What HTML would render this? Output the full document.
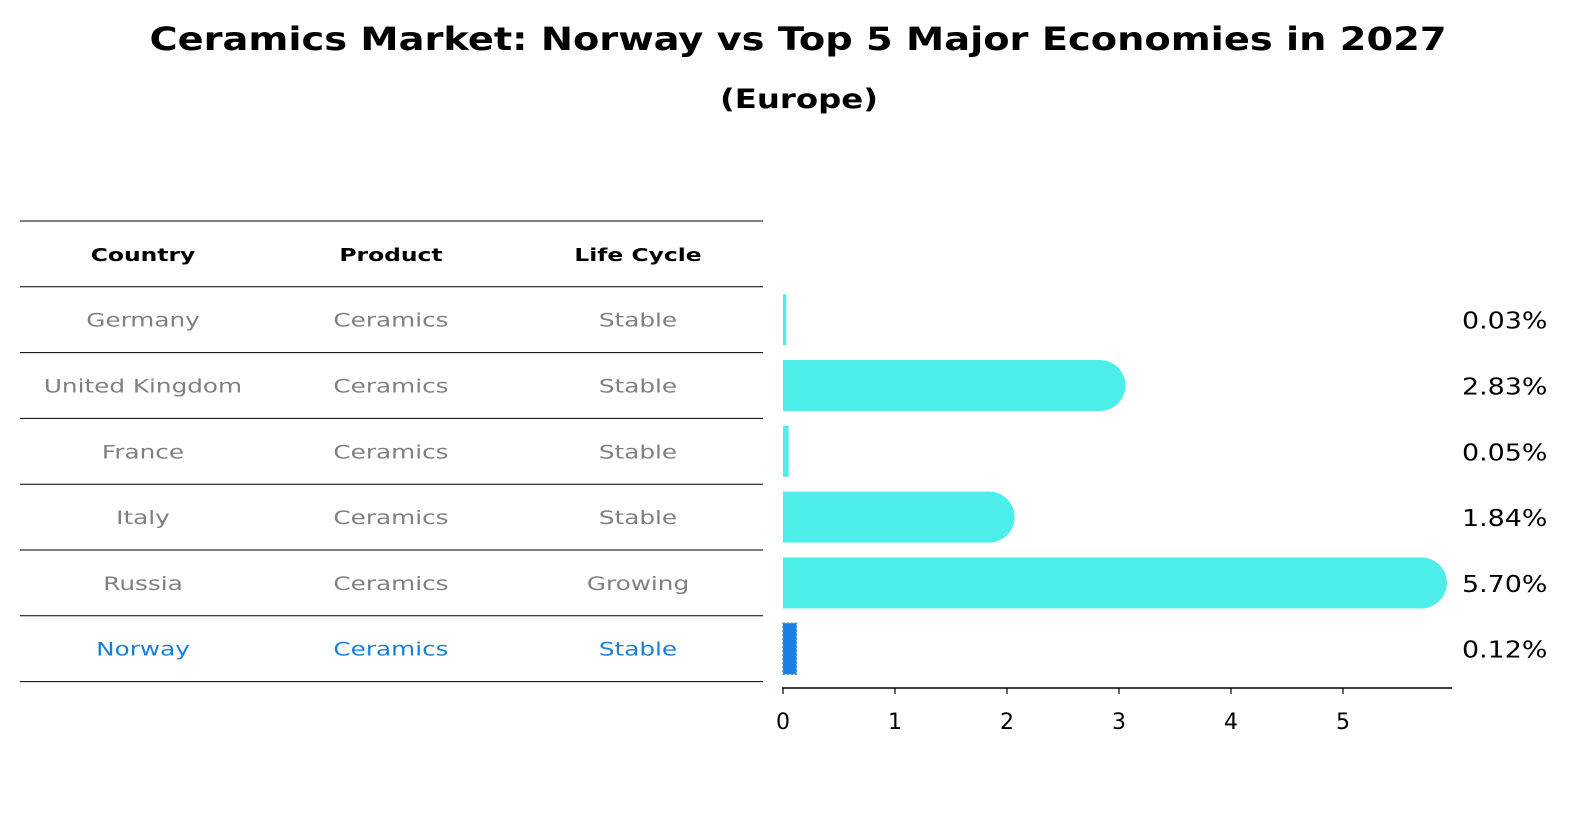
<!DOCTYPE html>
<html><head><meta charset="utf-8"><style>
body{margin:0;background:#fff;width:1586px;height:823px;overflow:hidden;font-family:"DejaVu Sans","Liberation Sans",sans-serif}
</style></head><body>
<svg width="1586" height="823" xmlns="http://www.w3.org/2000/svg" font-family="DejaVu Sans, Liberation Sans, sans-serif">
<text x="798" y="50" text-anchor="middle" font-size="32" font-weight="bold" textLength="1297" lengthAdjust="spacingAndGlyphs">Ceramics Market: Norway vs Top 5 Major Economies in 2027</text>
<text x="799" y="108" text-anchor="middle" font-size="27" font-weight="bold" textLength="158" lengthAdjust="spacingAndGlyphs">(Europe)</text>
<g id="table"></g>
<g id="chart"></g>
</svg>
<script>
const countries=["Germany","United Kingdom","France","Italy","Russia","Norway"];
const products=["Ceramics","Ceramics","Ceramics","Ceramics","Ceramics","Ceramics"];
const lifecycles=["Stable","Stable","Stable","Stable","Growing","Stable"];
const values=[0.03,2.83,0.05,1.84,5.70,0.12];
const ticks=[0,1,2,3,4,5];
const NS="http://www.w3.org/2000/svg";
function mk(t,a,p){const e=document.createElementNS(NS,t);for(const k in a)e.setAttribute(k,a[k]);p.appendChild(e);return e;}
function stretch(t,k){try{const w=t.getComputedTextLength();if(w>0){t.setAttribute('textLength',w*k);t.setAttribute('lengthAdjust','spacingAndGlyphs');}}catch(e){}}
const tbl=document.getElementById('table'),ch=document.getElementById('chart');
const rowH=65.8,top0=221,colX=[143,391,638];
const x=v=>783+v*112;
const yc=i=>top0+rowH*(i+1.5);
for(let i=0;i<=7;i++){const l=mk('line',{x1:20,x2:763,y1:top0+rowH*i,y2:top0+rowH*i,stroke:'#000','stroke-width':1},tbl);

}
["Country","Product","Life Cycle"].forEach((h,j)=>{const t=mk('text',{x:colX[j],y:top0+rowH*0.5+7,'text-anchor':'middle','font-size':18,'font-weight':'bold'},tbl);t.textContent=h;


stretch(t,1.3);});
countries.forEach((c,i)=>{const col=c==="Norway"?'#1a7fd9':'#808080';
[c,products[i],lifecycles[i]].forEach((s,j)=>{const t=mk('text',{x:colX[j],y:yc(i)+7,'text-anchor':'middle','font-size':19,fill:col},tbl);t.textContent=s;


stretch(t,1.3);});});
values.forEach((v,i)=>{const c=yc(i),h=51;
if(countries[i]==="Norway"){const r=mk('rect',{x:x(0),y:c-h/2,width:x(v)-x(0),height:h,fill:'#1a80e6',stroke:'#3b8fe0','stroke-dasharray':'2 2','stroke-width':1.5},ch);

}
else{const g=mk('g',{},ch);


mk('rect',{x:x(0),y:c-h/2,width:Math.max(x(v)-x(0),3),height:h,fill:'#4deeea'},g);
if(v>0.4)mk('circle',{cx:x(v),cy:c,r:h/2,fill:'#4deeea'},g);}
const t=mk('text',{x:1462,y:c+9,'font-size':23},ch);t.textContent=v.toFixed(2)+'%';


stretch(t,1.17);});
const ax=mk('line',{x1:782,x2:1452,y1:688,y2:688,stroke:'#000','stroke-width':1.5},ch);


ticks.forEach(v=>{mk('line',{x1:x(v),x2:x(v),y1:688,y2:694,stroke:'#000','stroke-width':1.2},ch);
const t=mk('text',{x:x(v),y:729,'text-anchor':'middle','font-size':22},ch);t.textContent=v;

});
</script>
</body></html>
